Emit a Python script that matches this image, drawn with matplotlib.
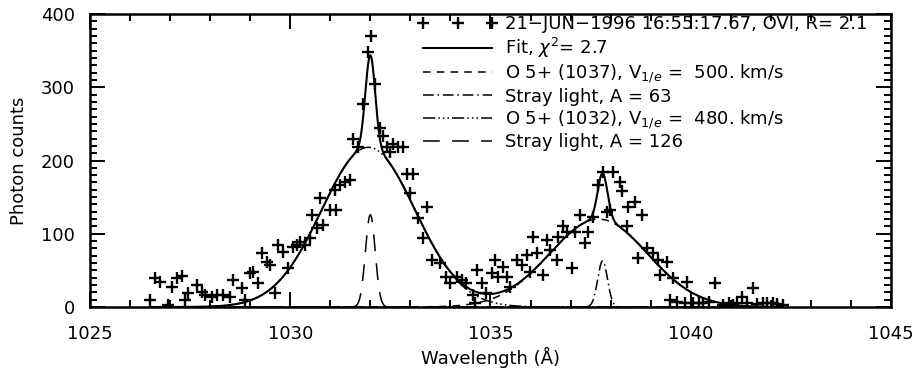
import numpy as np
import matplotlib
matplotlib.use("Agg")
import matplotlib.pyplot as plt
from matplotlib.ticker import MultipleLocator

plt.rcParams['font.family'] = ['DejaVu Sans']
plt.rcParams['mathtext.fontset'] = 'dejavusans'

wavelength = [
    1026.50, 1026.62, 1026.75, 1026.95, 1027.05, 1027.17, 1027.30, 1027.37, 1027.45, 1027.67,
    1027.80, 1027.87, 1028.05, 1028.17, 1028.32, 1028.50, 1028.57, 1028.80, 1028.87, 1029.00,
    1029.07, 1029.20, 1029.30, 1029.42, 1029.50, 1029.62, 1029.70, 1029.82, 1029.95, 1030.07,
    1030.17, 1030.24, 1030.37, 1030.50, 1030.55, 1030.67, 1030.74, 1030.82, 1031.00, 1031.12,
    1031.15, 1031.24, 1031.37, 1031.49, 1031.57, 1031.70, 1031.82, 1031.94, 1032.02, 1032.12,
    1032.24, 1032.32, 1032.42, 1032.49, 1032.57, 1032.69, 1032.82, 1032.92, 1033.00, 1033.07,
    1033.19, 1033.31, 1033.41, 1033.54, 1033.74, 1033.90, 1034.00, 1034.16, 1034.30, 1034.40,
    1034.56, 1034.61, 1034.66, 1034.80, 1034.90, 1035.04, 1035.11, 1035.19, 1035.31, 1035.41,
    1035.49, 1035.66, 1035.79, 1035.91, 1035.99, 1036.06, 1036.16, 1036.31, 1036.41, 1036.49,
    1036.66, 1036.69, 1036.81, 1036.91, 1037.04, 1037.11, 1037.24, 1037.36, 1037.44, 1037.56,
    1037.69, 1037.81, 1037.91, 1037.98, 1038.06, 1038.23, 1038.28, 1038.41, 1038.43, 1038.61,
    1038.68, 1038.78, 1038.91, 1039.06, 1039.18, 1039.23, 1039.41, 1039.48, 1039.56, 1039.66,
    1039.86, 1039.90, 1040.06, 1040.20, 1040.31, 1040.45, 1040.60, 1040.80, 1040.95, 1041.05,
    1041.15, 1041.28, 1041.40, 1041.55, 1041.65, 1041.80, 1041.90, 1042.05, 1042.15, 1042.30,
]
counts = [
    10, 40, 34, 3, 27, 40, 42, 10, 19, 30,
    21, 16, 14, 16, 16, 14, 37, 26, 10, 47,
    48, 33, 74, 62, 57, 19, 85, 75, 53, 82,
    85, 89, 85, 94, 126, 108, 149, 112, 133, 160,
    133, 167, 171, 174, 229, 219, 277, 348, 370, 304,
    245, 233, 218, 212, 222, 219, 219, 181, 156, 181,
    122, 94, 137, 64, 60, 41, 33, 41, 37, 33,
    16, 5, 51, 33, 19, 47, 64, 41, 55, 41,
    27, 64, 57, 71, 48, 96, 74, 44, 92, 78,
    64, 96, 110, 103, 53, 103, 126, 88, 103, 123,
    167, 185, 130, 133, 184, 170, 158, 110, 137, 144,
    67, 126, 81, 74, 64, 44, 62, 10, 40, 7,
    5, 34, 5, 6, 5, 7, 33, 3, 6, 3,
    5, 14, 6, 26, 4, 5, 6, 5, 4, 3,
]

comp_names = ["O 5+ (1037)", "Stray 1037", "O 5+ (1032)", "Stray 1032"]
comp_center = [1037.70, 1037.80, 1031.95, 1032.00]   # Angstrom
comp_amp = [120.0, 63.0, 218.0, 126.0]                # counts
comp_vel = [500.0, 50.0, 480.0, 50.0]                 # 1/e velocity width, km/s

labels = [
    "21\u2212JUN\u22121996 16:55:17.67, OVI, R= 2.1",
    "Fit, $\\chi^2$= 2.7",
    "O 5+ (1037), V$_{1/e}$ =  500. km/s",
    "Stray light, A = 63",
    "O 5+ (1032), V$_{1/e}$ =  480. km/s",
    "Stray light, A = 126",
]

C_KMS = 299792.458

fig = plt.figure(figsize=(9.19, 3.74), dpi=100)
ax = fig.add_axes([0.0979, 0.1791, 0.8716, 0.7834])

lam = np.linspace(1026.5, 1042.3, 1600)
comps = []
for c, a, v in zip(comp_center, comp_amp, comp_vel):
    w = c * v / C_KMS
    comps.append(a * np.exp(-((lam - c) / w) ** 2))
fit = np.sum(comps, axis=0)

styles = [(0, (5, 4)), (0, (7, 2.5, 1, 2.5)), (0, (8, 2, 1, 2, 1, 2, 1, 2)), (0, (11, 8))]

h_data, = ax.plot(wavelength, counts, linestyle='none', marker='+', color='black',
                  markersize=8.5, markeredgewidth=1.7)
h_fit, = ax.plot(lam, fit, color='black', lw=1.5)
h_comps = []
for comp, ls in zip(comps, styles):
    h, = ax.plot(lam, comp, color='black', lw=1.1, linestyle=ls)
    h_comps.append(h)

FS = 13
ax.set_xlim(1025, 1045)
ax.set_ylim(0, 400)
ax.xaxis.set_major_locator(MultipleLocator(5))
ax.xaxis.set_minor_locator(MultipleLocator(1))
ax.yaxis.set_major_locator(MultipleLocator(100))
ax.yaxis.set_minor_locator(MultipleLocator(10))
ax.tick_params(which='both', direction='in', top=True, right=True, width=1.4, colors='black')
ax.tick_params(which='major', length=11, labelsize=FS)
ax.tick_params(axis='x', which='major', pad=13)
ax.tick_params(axis='y', which='major', pad=11)
ax.tick_params(which='minor', length=5)
for s in ax.spines.values():
    s.set_linewidth(1.8)

ax.set_xlabel("Wavelength (Å)", fontsize=FS, labelpad=3)
ax.set_ylabel("Photon counts", fontsize=FS, labelpad=9)

handles = [h_data, h_fit, h_comps[0], h_comps[1], h_comps[2], h_comps[3]]
leg = ax.legend(handles, labels, loc='upper right', frameon=False, fontsize=FS,
                numpoints=3, handlelength=4.4, handletextpad=0.4, labelspacing=0.14,
                borderaxespad=0.0, borderpad=0.0, bbox_to_anchor=(0.97, 0.995))

fig.savefig("out.png", dpi=100)
